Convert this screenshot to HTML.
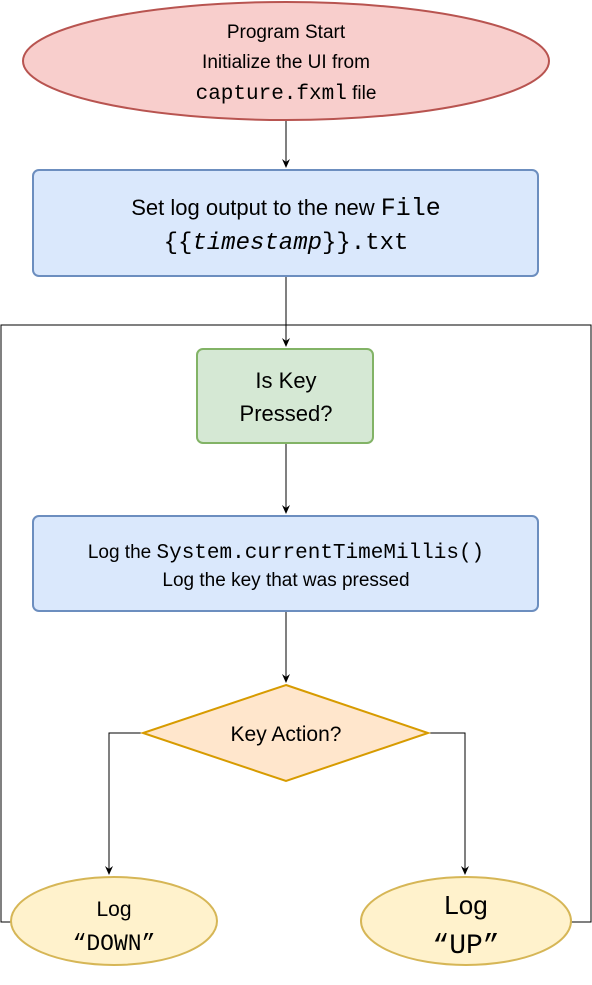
<!DOCTYPE html>
<html><head><meta charset="utf-8"><style>
html,body{margin:0;padding:0;background:#fff}
svg{display:block}
text{font-family:"Liberation Sans",sans-serif;fill:#000}
.m{font-family:"Liberation Mono",monospace}
</style></head><body>
<svg width="592" height="985" viewBox="0 0 592 985" xmlns="http://www.w3.org/2000/svg">
<defs><marker id="a" markerWidth="10" markerHeight="10" refX="8" refY="5" orient="auto" markerUnits="userSpaceOnUse"><path d="M0,1 L9,5 L0,9 L3,5 Z" fill="#000"/></marker></defs>
<g stroke="#000" stroke-width="1" fill="none">
<line x1="286" y1="121" x2="286" y2="167" marker-end="url(#a)"/>
<line x1="286" y1="277" x2="286" y2="346" marker-end="url(#a)"/>
<line x1="286" y1="443" x2="286" y2="513" marker-end="url(#a)"/>
<line x1="286" y1="611" x2="286" y2="682" marker-end="url(#a)"/>
<polyline points="143,733 109,733 109,874" marker-end="url(#a)"/>
<polyline points="428,733 465,733 465,874" marker-end="url(#a)"/>
<polyline points="12,922 1,922 1,325 591,325 591,922 570,922"/>
</g>
<ellipse cx="286" cy="61" rx="263" ry="59" fill="#f8cecc" stroke="#b85450" stroke-width="2"/>
<rect x="33" y="170" width="505" height="106" rx="6" fill="#dae8fc" stroke="#6c8ebf" stroke-width="2"/>
<rect x="197" y="349" width="176" height="94" rx="6" fill="#d5e8d4" stroke="#82b366" stroke-width="2"/>
<rect x="33" y="516" width="505" height="95" rx="6" fill="#dae8fc" stroke="#6c8ebf" stroke-width="2"/>
<polygon points="286,685 428,733 286,781 143,733" fill="#ffe6cc" stroke="#d79b00" stroke-width="2"/>
<ellipse cx="114" cy="921" rx="103" ry="44" fill="#fff2cc" stroke="#d6b656" stroke-width="2"/>
<ellipse cx="466" cy="921" rx="105" ry="44" fill="#fff2cc" stroke="#d6b656" stroke-width="2"/>
<g text-anchor="middle" font-size="19">
<text x="286" y="38">Program Start</text>
<text x="286" y="68">Initialize the UI from</text>
<text x="286" y="99"><tspan class="m" font-size="21">capture.fxml</tspan>  file</text>
<text x="286" y="215" font-size="22">Set log output to the new <tspan class="m" font-size="25">File</tspan></text>
<text x="286" y="249" class="m" font-size="24">{{<tspan font-style="italic">timestamp</tspan>}}.txt</text>
<text x="286" y="388" font-size="22">Is Key</text>
<text x="286" y="421" font-size="22">Pressed?</text>
<text x="286" y="558">Log the <tspan class="m" font-size="21">System.currentTimeMillis()</tspan></text>
<text x="286" y="586">Log the key that was pressed</text>
<text x="286" y="741" font-size="21">Key Action?</text>
<text x="114" y="916" font-size="21">Log</text>
<text x="114" y="950" font-size="23" class="m">“DOWN”</text>
<text x="466" y="914" font-size="26">Log</text>
<text x="466" y="953" font-size="28" class="m">“UP”</text>
</g>
</svg>
</body></html>
